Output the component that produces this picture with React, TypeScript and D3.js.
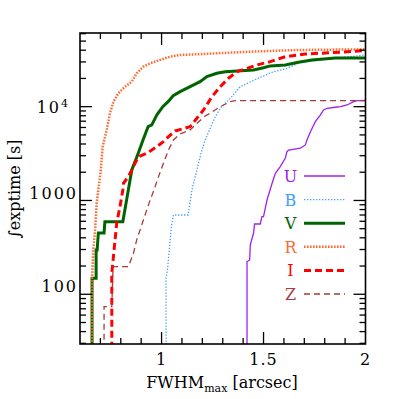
import React from 'react';
import * as d3 from 'd3';

// cumulative exposure time vs. max FWHM, one array per band: [fwhm, seconds]
const uData: [number, number][] = [
  [1.419, 20], [1.419, 223], [1.432, 232], [1.435, 336], [1.451, 447], [1.456, 561],
  [1.484, 561], [1.492, 671], [1.5, 671], [1.517, 1011], [1.542, 1524], [1.558, 1950],
  [1.582, 2293], [1.607, 2836], [1.615, 3311], [1.623, 3452], [1.681, 3603], [1.705, 3908],
  [1.713, 4416], [1.73, 5410], [1.754, 6920], [1.779, 8170], [1.795, 9230], [1.812, 9610],
  [1.852, 9860], [1.877, 10000], [1.91, 10420], [1.942, 11300], [1.959, 11590], [2.0, 11640],
];
const bData: [number, number][] = [
  [1.022, 20], [1.022, 150], [1.029, 181], [1.042, 379], [1.05, 571], [1.058, 700],
  [1.13, 700], [1.149, 1294], [1.173, 2113], [1.198, 3452], [1.214, 4416], [1.239, 5930],
  [1.263, 7760], [1.288, 9680], [1.337, 12290], [1.386, 16340], [1.484, 20560],
  [1.549, 23600], [1.607, 25200], [1.681, 29600], [1.779, 31500], [1.893, 33600], [2.0, 35560],
];
const vData: [number, number][] = [
  [0.659, 20], [0.659, 148], [0.679, 148], [0.679, 297], [0.684, 297], [0.69, 450],
  [0.718, 450], [0.722, 594], [0.81, 594], [0.837, 1294], [0.854, 2113], [0.886, 3206],
  [0.909, 4416], [0.934, 6120], [0.952, 6380], [0.977, 8170], [1.006, 10000], [1.032, 11300],
  [1.057, 13100], [1.091, 14450], [1.14, 16340], [1.189, 18480], [1.222, 20900], [1.271, 22700],
  [1.312, 23600], [1.37, 24000], [1.451, 24600], [1.5, 26000], [1.533, 27200], [1.607, 27850],
  [1.671, 29750], [1.738, 31500], [1.852, 33000], [2.0, 33000],
];
const rData: [number, number][] = [
  [0.659, 20], [0.659, 148], [0.665, 297], [0.674, 484], [0.682, 940], [0.69, 1294],
  [0.702, 2113], [0.711, 3750], [0.731, 5640], [0.747, 8510], [0.764, 11300], [0.788, 13890],
  [0.821, 16340], [0.854, 18480], [0.878, 22700], [0.911, 26700], [0.944, 29000], [0.993, 31500],
  [1.042, 34100], [1.091, 35560], [1.204, 36450], [1.37, 38020], [1.533, 39270], [1.671, 40200],
  [2.0, 40900],
];
const iData: [number, number][] = [
  [0.756, 20], [0.756, 169], [0.764, 252], [0.78, 575], [0.796, 859], [0.81, 1294],
  [0.813, 1524], [0.837, 1795], [0.854, 2113], [0.886, 2930], [0.928, 3185], [0.977, 3750],
  [1.009, 4240], [1.034, 4790], [1.067, 5510], [1.14, 6120], [1.173, 7520], [1.206, 9230],
  [1.247, 12790], [1.288, 16340], [1.328, 20100], [1.37, 23600], [1.419, 25640], [1.468, 27850],
  [1.533, 30200], [1.607, 34100], [1.705, 36450], [1.836, 37670], [2.0, 39550],
];
const zData: [number, number][] = [
  [0.718, 20], [0.718, 73.8], [0.756, 73.8], [0.762, 197], [0.837, 197], [0.862, 273],
  [0.878, 379], [0.911, 620], [0.944, 1011], [0.963, 1294], [0.985, 1795], [1.009, 2495],
  [1.034, 3452], [1.058, 4416], [1.091, 5117], [1.14, 5645], [1.175, 6700], [1.214, 7960],
  [1.248, 8780], [1.288, 10000], [1.337, 11300], [1.361, 11590], [2.0, 11590],
];

const bands = ['U', 'B', 'V', 'R', 'I', 'Z'];
const xTickLabels = [1, 1.5, 2];
const yTickLabels = [100, 1000, 10000];

const styles = [
  { data: uData, color: '#a020f0', width: 1.3, dash: '' },
  { data: bData, color: '#3d9bff', width: 1.3, dash: '1.3 1.7' },
  { data: vData, color: '#006400', width: 3, dash: '' },
  { data: rData, color: '#ff6a30', width: 2.5, dash: '1.6 1.4' },
  { data: iData, color: '#ff0000', width: 3, dash: '7 4' },
  { data: zData, color: '#a83a3a', width: 1.3, dash: '6 4' },
];

const font = '"DejaVu Serif", serif';

export default function App() {
  const x = d3.scaleLinear().domain([0.6, 2]).range([80, 365.5]);
  const y = d3.scaleLog().domain([29.5, 61000]).range([344, 33]);
  const [x0, x1] = x.range();
  const [y0, y1] = y.range();

  const line = d3.line<[number, number]>()
    .x(d => x(d[0]))
    .y(d => y(d[1]));

  const xMinor = d3.range(7, 20).map(v => v / 10);
  const yMinor: number[] = [];
  [10, 100, 1000, 10000].forEach(dec => {
    for (let k = 2; k <= 9; k++) {
      const v = dec * k;
      if (v > 29.5 && v < 61000) yMinor.push(v);
    }
  });

  return (
    <svg width={399} height={399} style={{ position: 'absolute', left: 0, top: 0 }}>
      <rect width={399} height={399} fill="#fff" />
      <defs>
        <clipPath id="plot">
          <rect x={x0} y={y1} width={x1 - x0} height={y0 - y1} />
        </clipPath>
      </defs>

      <g clipPath="url(#plot)" fill="none">
        {styles.map((s, i) => (
          <path key={i} d={line(s.data) || ''} stroke={s.color} strokeWidth={s.width}
            strokeDasharray={s.dash || undefined} />
        ))}
      </g>

      {/* ticks, all pointing inward on the four sides */}
      <g stroke="#000" strokeWidth={1.3}>
        {xMinor.map(v => {
          const major = Math.abs(v * 2 - Math.round(v * 2)) < 1e-6;
          const len = major ? 12 : 6;
          return (
            <g key={'x' + v}>
              <line x1={x(v)} x2={x(v)} y1={y0} y2={y0 - len} />
              <line x1={x(v)} x2={x(v)} y1={y1} y2={y1 + len} />
            </g>
          );
        })}
        {yMinor.map(v => (
          <g key={'ym' + v}>
            <line x1={x0} x2={x0 + 6} y1={y(v)} y2={y(v)} />
            <line x1={x1} x2={x1 - 6} y1={y(v)} y2={y(v)} />
          </g>
        ))}
        {yTickLabels.map(v => (
          <g key={'yM' + v}>
            <line x1={x0} x2={x0 + 12} y1={y(v)} y2={y(v)} />
            <line x1={x1} x2={x1 - 12} y1={y(v)} y2={y(v)} />
          </g>
        ))}
      </g>

      <rect x={x0} y={y1} width={x1 - x0} height={y0 - y1} fill="none" stroke="#000" strokeWidth={1.6} />

      <g fontFamily={font} fontSize={16} fill="#000">
        {xTickLabels.map(v => (
          <text key={v} x={x(v)} y={365} textAnchor="middle" letterSpacing={1}>{v}</text>
        ))}
        <text x={78} y={y(1000) - 1} textAnchor="end" letterSpacing={2}>1000</text>
        <text x={78} y={y(100) - 2} textAnchor="end" letterSpacing={2}>100</text>
        <text x={70} y={y(10000) + 6.5} textAnchor="end" letterSpacing={2}>
          10<tspan fontSize={11} dy={-6}>4</tspan>
        </text>

        <text x={222} y={388} textAnchor="middle">
          FWHM<tspan fontSize={11} dy={4}>max</tspan><tspan dy={-4}> [arcsec]</tspan>
        </text>
        <text transform="translate(20,189) rotate(-90)" textAnchor="middle">∫exptime [s]</text>
      </g>

      {/* legend */}
      <g fontFamily={font} fontSize={16}>
        {bands.map((b, i) => {
          const ly = 176 + i * 23.6;
          const s = styles[i];
          return (
            <g key={b}>
              <text x={290.5} y={ly + 6} textAnchor="middle" fill={s.color}>{b}</text>
              <line x1={304} x2={345} y1={ly} y2={ly} stroke={s.color} strokeWidth={s.width}
                strokeDasharray={s.dash || undefined} />
            </g>
          );
        })}
      </g>
    </svg>
  );
}
